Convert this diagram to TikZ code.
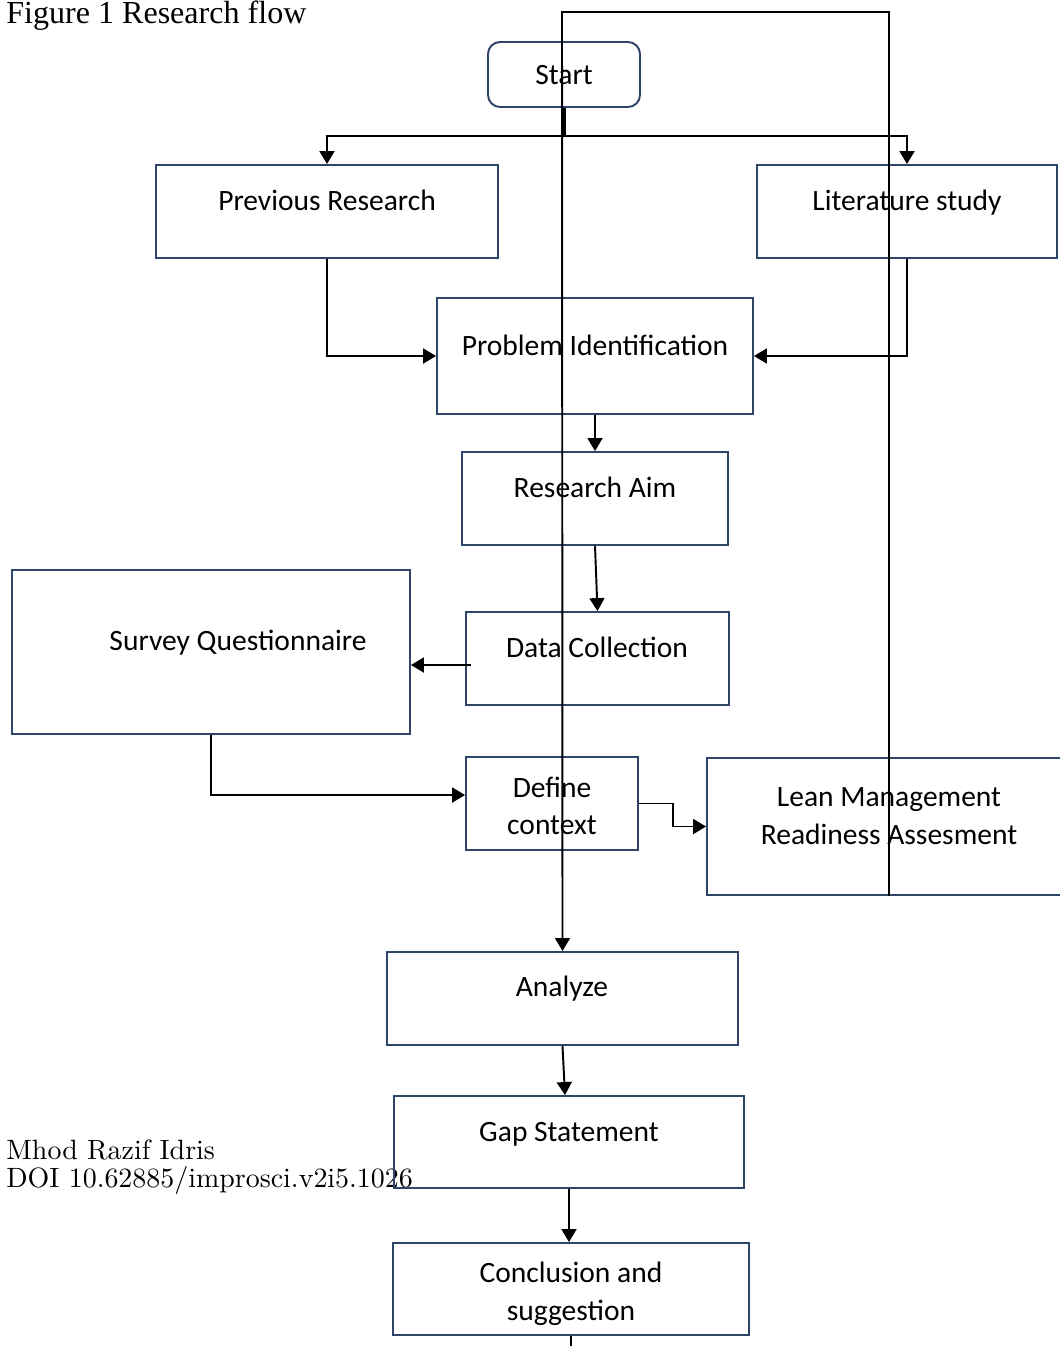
\documentclass[tikz,border=0pt]{standalone}
\usepackage{fontspec}
\usepackage{tikz}
\usetikzlibrary{arrows.meta, calc, positioning}
\newfontfamily\boxfont{Carlito}
\newfontfamily\figfont{Liberation Serif}
\newfontfamily\authfont{lmroman10-regular}[Extension=.otf]
\definecolor{boxblue}{HTML}{2E4468}

\begin{document}
\begin{tikzpicture}[x=0.02cm, y=-0.02cm,
    box/.style={draw=boxblue, line width=1.1pt, inner sep=0pt},
    txt/.style={font=\boxfont\fontsize{16.8}{21.5}\selectfont, inner sep=0pt,
        text height=12pt, text depth=1.1pt},
    two/.style={font=\boxfont\fontsize{16.8}{21.5}\selectfont, inner sep=0pt,
        align=center},
    flow/.style={line width=1.1pt, -{Triangle[length=2.6mm, width=3mm]}}]
    \useasboundingbox (0,0) rectangle (1060,1346);

    % caption and footer
    \node[anchor=base west, inner sep=0pt, font=\figfont\fontsize{18.25}{21}\selectfont]
        (fig) at (6,23) {Figure 1 Research flow};
    \node[anchor=base west, inner sep=0pt, align=left, font=\authfont\fontsize{15.9}{15.5}\selectfont]
        (auth) at (6,1187) {Mhod Razif Idris\\DOI 10.62885/improsci.v2i5.1026};

    % boxes
    \node[box, txt, rounded corners=0.24cm, minimum width=3.04cm, minimum height=1.3cm]
        (start) at (564,74.5) {Start};
    \node[box, minimum width=6.84cm, minimum height=1.86cm] (prev) at (327,211.5) {};
    \node[txt] (prevT) at (327,201) {Previous Research};
    \node[box, minimum width=6cm, minimum height=1.86cm] (lit) at (907,211.5) {};
    \node[txt] (litT) at (907,201) {Literature study};
    \node[box, minimum width=6.32cm, minimum height=2.32cm] (prob) at (595,356) {};
    \node[txt] (probT) at (595,346) {Problem Identification};
    \node[box, minimum width=5.32cm, minimum height=1.86cm] (aim) at (595,498.5) {};
    \node[txt] (aimT) at (595,488) {Research Aim};
    \node[box, minimum width=5.26cm, minimum height=1.86cm] (data) at (597.5,658.5) {};
    \node[txt] (dataT) at (597,648) {Data Collection};
    \node[box, minimum width=7.96cm, minimum height=3.28cm] (survey) at (211,652) {};
    \node[txt] (surveyT) at (238,641) {Survey Questionnaire};
    \node[box, minimum width=3.44cm, minimum height=1.86cm] (def) at (552,803.5) {};
    \node[two] (defT) at (552,806) {Define\\context};
    \node[box, minimum width=7.28cm, minimum height=2.74cm] (lean) at (889,826.5) {};
    \node[two] (leanT) at (889,816) {Lean Management\\Readiness Assesment};
    \node[box, minimum width=7.02cm, minimum height=1.86cm] (ana) at (562.5,998.5) {};
    \node[txt] (anaT) at (562,987) {Analyze};
    \node[box, minimum width=7cm, minimum height=1.84cm] (gap) at (569,1142) {};
    \node[txt] (gapT) at (569,1132) {Gap Statement};
    \node[box, minimum width=7.12cm, minimum height=1.84cm] (concl) at (571,1289) {};
    \node[two] (conclT) at (571,1294) {Conclusion and\\suggestion};

    % connectors
    \coordinate (split) at (564,136);
    \coordinate (top) at (562,12);
    \coordinate (dq) at (471,665);
    \draw[line width=2.2pt] (start.south) -- (split);
    \draw[flow] (split) -| (prev.north);
    \draw[flow] (split) -| (lit.north);
    \draw[flow] (prev.south) |- (prob.west);
    \draw[flow] (lit.south) |- (prob.east);
    \draw[flow] (prob.south) -- (aim.north);
    \draw[flow] (aim.south) -- (data.north);
    \draw[flow] (dq) -- (dq -| survey.east);
    \draw[flow] (survey.south) |- ($(def.west)+(0,-8.5)$);
    \draw[flow] (def.east) -- ++(34,0) |- (lean.west);
    \draw[flow] (lean.south) |- (top) -- (ana.north);
    \draw[flow] (ana.south) -- ($(gap.north)+(-4,0)$);
    \draw[flow] (gap.south) -- (gap.south |- concl.north);
    \draw[line width=1.1pt] (concl.south) -- ++(0,15);
\end{tikzpicture}
\end{document}
